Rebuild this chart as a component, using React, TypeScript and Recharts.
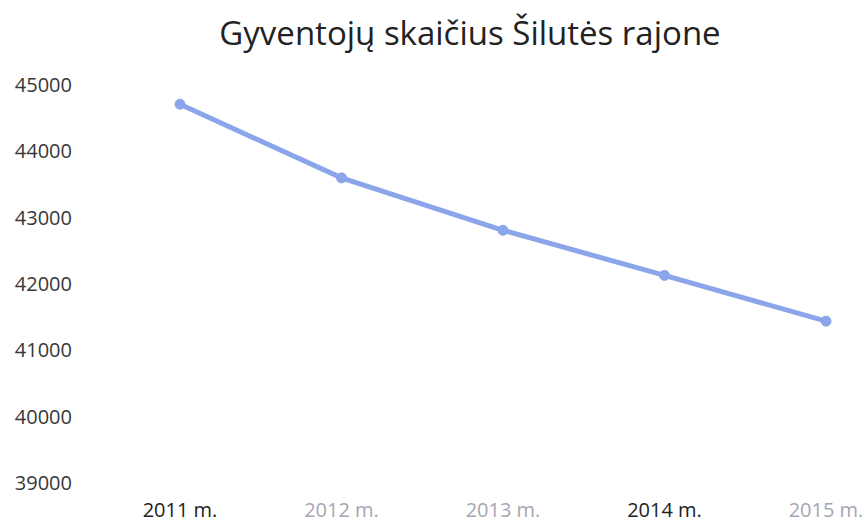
import { LineChart, Line, XAxis, YAxis } from 'recharts'

const years = ['2011 m.', '2012 m.', '2013 m.', '2014 m.', '2015 m.']
const population = [44710, 43600, 42810, 42130, 41440]
const yTicks = [39000, 40000, 41000, 42000, 43000, 44000, 45000]
// some year labels come out faded in the original
const labelColors = ['#222222', '#a6a6b4', '#a6a6b4', '#222222', '#a6a6b4']

const data = years.map((year, i) => ({ year, value: population[i] }))

const FONT = '"Open Sans", sans-serif'

const YearTick = (props: any) => {
  const { x, y, payload, index } = props
  return (
    <text x={x} y={y} dy={26} textAnchor="middle" fill={labelColors[index]} fontSize={20} fontFamily={FONT}>
      {payload.value}
    </text>
  )
}

export default function App() {
  return (
    <div style={{ position: 'absolute', left: 0, top: 0, width: 867, height: 527, background: '#fff' }}>
      <div
        style={{
          position: 'absolute',
          top: 10,
          left: 0,
          width: 940,
          textAlign: 'center',
          fontFamily: FONT,
          fontSize: 33,
          color: '#222',
        }}
      >
        Gyventojų skaičius Šilutės rajone
      </div>
      <LineChart width={867} height={527} data={data} margin={{ top: 85, right: 0, bottom: 4, left: 0 }}>
        <XAxis
          dataKey="year"
          axisLine={false}
          tickLine={false}
          height={40}
          padding={{ left: 100, right: 41 }}
          interval={0}
          tick={<YearTick />}
        />
        <YAxis
          domain={[39000, 45000]}
          ticks={yTicks}
          axisLine={false}
          tickLine={false}
          width={80}
          tick={{ fill: '#383838', fontSize: 20, fontFamily: FONT }}
        />
        <Line
          type="linear"
          dataKey="value"
          stroke="#8ba5ea"
          strokeWidth={5}
          dot={{ r: 5, fill: '#8ba5ea', stroke: '#8ba5ea', strokeWidth: 1 }}
          isAnimationActive={false}
        />
      </LineChart>
    </div>
  )
}
